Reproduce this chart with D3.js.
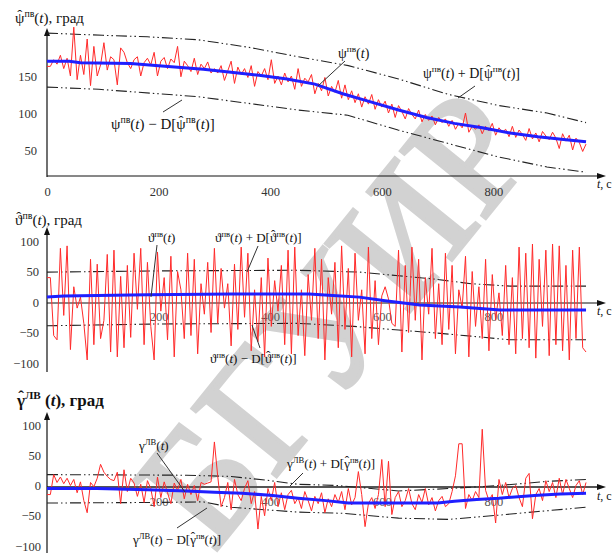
<!DOCTYPE html>
<html>
<head>
<meta charset="utf-8">
<script src="https://cdn.jsdelivr.net/npm/d3@7"></script>
<style>
  body { margin: 0; background: #fff; }
  svg { display: block; }
  text { font-family: "Liberation Serif", "Times New Roman", serif; }
</style>
</head>
<body>
<svg id="chart" width="613" height="553"></svg>
<script>
// сетка времени, c
const timeGrid = d3.range(0, 967, 6);
const tTicks = [0, 200, 400, 600, 800];

// курс (ψ)
const psiNoisy = [
  163,163,172,166,178,160,174,150,216,145,
  178,152,200,137,190,150,165,195,158,176,
  172,138,188,182,168,160,172,176,150,168,
  174,165,182,150,170,175,160,173,168,190,
  149,170,164,156,174,152,166,160,169,154,
  160,154,164,144,157,170,140,162,152,160,
  148,164,136,156,150,160,145,172,140,150,
  138,154,142,150,132,160,136,147,142,152,
  126,140,130,148,123,136,128,144,120,138,
  118,130,114,126,108,122,112,125,105,118,
  108,116,100,112,94,110,102,92,106,98,
  92,104,88,98,90,96,84,94,87,92,
  82,90,78,86,80,100,74,82,78,84,
  72,82,76,86,70,80,74,78,68,82,
  67,77,71,63,79,65,73,61,75,69,
  64,74,66,52,72,62,70,50,66,60,48,58
];
const psiMeanT = [0,40,60,150,200,280,330,380,430,480,530,580,630,680,730,780,830,880,930,966];
const psiMeanV = [170,170,168,167,164,159,155,151,146,139,126,115,104,94,86,80,73,68,64,61];
const psiUpT = [0,100,180,270,360,450,540,630,720,810,896,966];
const psiUpV = [208,205,203,199,189,176,164,146,125,110,100,87];
const psiLoT = [0,93,271,361,450,539,629,718,807,896,966];
const psiLoV = [135,132,122,113,104,97,77,59,41,27,20];
const psiTicks = [50, 100, 150];

// тангаж (ϑ)
const thetaNoisy = [
  40,40,-55,-62,88,-22,92,-78,25,-10,
  8,-35,-95,70,-70,62,-60,-30,78,-82,
  85,-90,42,-75,60,-58,80,-12,88,-70,
  65,-40,-95,82,-15,40,-62,75,-90,50,
  20,-60,80,-55,70,-85,30,-20,65,-50,
  88,-35,55,-10,30,-72,62,-45,90,-25,
  80,-80,20,-65,40,-90,72,-40,35,-15,
  60,-70,85,-85,90,-55,20,-88,45,-30,
  88,-60,70,-95,40,-20,65,-75,92,-45,
  55,-90,80,-30,20,-85,90,-60,35,-70,
  10,25,5,-35,-40,85,-82,60,-50,90,
  -30,70,-95,40,-20,88,-60,30,-70,80,
  -45,60,-85,20,-10,75,-90,50,-40,25,
  -60,70,-80,45,-30,15,-55,60,-70,40,
  -85,90,-60,80,-75,95,-92,70,-40,85,
  -88,95,-70,92,-80,60,-95,85,-60,90,-75,-82
];
const thetaMeanT = [0,30,180,330,470,505,560,606,668,740,812,966];
const thetaMeanV = [8,10,12,13,13,11,8,2,-5,-8,-13,-13];
const thetaUpT = [0,200,450,560,630,690,760,830,966];
const thetaUpV = [49,51,52,49,43,38,30,26,26];
const thetaLoT = [0,200,450,550,630,700,760,830,966];
const thetaLoV = [-39,-36,-35,-40,-46,-51,-56,-62,-62];
const thetaTicks = [-100, -50, 0, 50, 100];

// крен (γ)
const gammaNoisy = [
  -15,-15,18,5,14,3,12,0,10,-12,
  6,-25,-45,5,-2,12,35,22,15,10,
  8,22,-30,26,-10,12,4,-18,2,-28,
  8,-5,-35,14,-20,6,-12,-30,4,-8,
  10,-22,2,-15,0,-25,5,2,4,6,
  72,15,-35,-20,5,-40,10,-15,-25,-5,
  8,-30,-10,-72,-18,-50,-5,-25,5,-35,
  -12,-40,-15,-8,-30,-20,-38,-10,-25,-42,
  -18,-30,-12,-45,-22,-35,-15,-28,-10,-40,
  -5,-32,-20,23,-15,-68,-30,-20,-38,-15,
  43,-35,40,-48,-20,-10,-35,-25,-5,-30,
  -40,-15,-28,-5,-32,-20,-42,-25,-18,-35,
  -30,-10,16,69,69,-38,-15,-25,-10,-20,
  93,-8,-25,-15,-62,10,-15,5,-20,-5,
  0,-20,-35,12,20,-55,-15,-5,-25,8,
  -10,5,-20,12,-15,10,-5,-20,0,8,-15,5
];
const gammaMeanT = [0,90,180,250,300,350,400,450,500,540,700,730,770,810,850,880,920,966];
const gammaMeanV = [-5,-5,-7,-9,-11,-13,-16,-21,-25,-29,-29,-26,-23,-21,-18,-16,-14,-13];
const gammaUpT = [0,250,330,400,450,520,630,720,810,900,966];
const gammaUpV = [18,17,15,8,2,0,-9,-5,0,7,10];
const gammaLoT = [0,200,280,330,450,530,630,720,810,880,966];
const gammaLoV = [-29,-28,-27,-36,-44,-46,-54,-56,-49,-43,-36];
const gammaTicks = [-100, -50, 0, 50, 100];

const svg = d3.select('#chart');
const x = d3.scaleLinear().domain([0, 1000]).range([47, 605]);

const pairs = (ts, vs) => ts.map((t, i) => [t, vs[i]]);

// водяной знак
svg.append('text')
  .attr('transform', 'translate(332,316) rotate(-51)')
  .attr('text-anchor', 'middle')
  .attr('dy', '0.35em')
  .attr('font-family', '"Liberation Sans", sans-serif')
  .attr('font-size', 165)
  .attr('fill', '#d2d2d2')
  .attr('stroke', '#d2d2d2')
  .attr('stroke-width', 4)
  .text('БГУИР');

function measure(s, size, weight) {
  const t = svg.append('text').attr('font-size', size).attr('font-weight', weight || 'normal').text(s);
  const w = t.node().getComputedTextLength();
  t.remove();
  return w;
}

// текст с верхними индексами, курсивом и "крышкой"
function rich(g, px, py, parts, size, weight) {
  const txt = g.append('text')
    .attr('x', px).attr('y', py)
    .attr('font-size', size)
    .attr('font-weight', weight || 'normal')
    .attr('fill', '#111');
  let up = false, pendDx = 0, pendDy = 0;
  parts.forEach(([s, k]) => {
    const sp = txt.append('tspan').text(s);
    let dx = pendDx, dy = pendDy;
    pendDx = 0; pendDy = 0;
    if (k === 's') {
      sp.attr('font-size', size * 0.66);
      if (!up) dy -= size * 0.4;
      up = true;
    } else if (up) {
      dy += size * 0.4;
      up = false;
    }
    if (dx) sp.attr('dx', dx);
    if (dy) sp.attr('dy', dy);
    if (k === 'i') sp.attr('font-style', 'italic');
    if (k === 'h') {
      const w = measure(s, size, weight), hw = measure('ˆ', size, weight);
      txt.append('tspan').text('ˆ')
        .attr('dx', -(w + hw) / 2)
        .attr('dy', -size * 0.22);
      pendDx = (w - hw) / 2;
      pendDy = size * 0.22;
    }
  });
  return txt;
}

function arrowUp(g, px, py) {
  g.append('path').attr('d', `M${px},${py} l-3,8 l6,0 z`).attr('fill', '#111');
}
function arrowRight(g, px, py) {
  g.append('path').attr('d', `M${px},${py} l-9,-3 l0,6 z`).attr('fill', '#111');
}

function panel(cfg) {
  const g = svg.append('g');
  const y = d3.scaleLinear().domain(cfg.domain).range(cfg.range);
  const line = d3.line().x(d => x(d[0])).y(d => y(d[1]));

  // оси
  g.append('line')
    .attr('x1', x(0)).attr('x2', 600)
    .attr('y1', cfg.axisY).attr('y2', cfg.axisY)
    .attr('stroke', cfg.xAxisColor || '#111')
    .attr('stroke-width', cfg.xAxisWidth || 1);
  arrowRight(g, 606, cfg.axisY);
  g.append('line')
    .attr('x1', x(0)).attr('x2', x(0))
    .attr('y1', cfg.yBottom).attr('y2', cfg.yTop + 4)
    .attr('stroke', '#111').attr('stroke-width', 1.2);
  arrowUp(g, x(0), cfg.yTop);

  // подписи делений
  const yAxis = g.append('g')
    .attr('transform', `translate(${cfg.yLabelX},0)`)
    .call(d3.axisLeft(y).tickValues(cfg.yTicks).tickSize(0).tickPadding(0));
  yAxis.select('.domain').remove();
  yAxis.selectAll('text')
    .attr('font-family', '"Liberation Serif", serif')
    .attr('font-size', 12.5).attr('fill', '#333');

  const xAxis = g.append('g')
    .attr('transform', `translate(0,${cfg.xLabelY})`)
    .call(d3.axisBottom(x).tickValues(cfg.xTicks).tickSize(0).tickPadding(0));
  xAxis.select('.domain').remove();
  xAxis.selectAll('text')
    .attr('font-family', '"Liberation Serif", serif')
    .attr('font-size', 12.5).attr('fill', cfg.xLabelColor || '#333');

  // огибающие ± D
  [pairs(cfg.upT, cfg.upV), pairs(cfg.loT, cfg.loV)].forEach(d => {
    g.append('path').datum(d)
      .attr('d', line)
      .attr('fill', 'none')
      .attr('stroke', '#222')
      .attr('stroke-width', 1.1)
      .attr('stroke-dasharray', '11,3,1.5,3,1.5,3');
  });

  // измерения
  g.append('path').datum(timeGrid.map((t, i) => [t, cfg.noisy[i]]))
    .attr('d', line)
    .attr('fill', 'none')
    .attr('stroke', '#ff2a2a')
    .attr('stroke-width', 1);

  // оценка
  g.append('path').datum(pairs(cfg.meanT, cfg.meanV))
    .attr('d', line)
    .attr('fill', 'none')
    .attr('stroke', '#1f1fff')
    .attr('stroke-width', 3);

  // t, c
  rich(g, 597, cfg.tLabelY, [['t', 'i'], [', c']], 12);

  // заголовок
  rich(g, cfg.titleX, cfg.titleY, cfg.title, cfg.titleSize, cfg.titleWeight);

  // выноски
  cfg.notes.forEach(n => {
    g.append('line')
      .attr('x1', n.from[0]).attr('y1', n.from[1])
      .attr('x2', n.to[0]).attr('y2', n.to[1])
      .attr('stroke', '#333').attr('stroke-width', 1);
    rich(g, n.at[0], n.at[1], n.parts, n.size);
  });
}

const sym = (ch, sup) => [[ch], [sup, 's'], ['('], ['t', 'i'], [')']];
const plusD = (ch, sup, hatSup, sign) =>
  [[ch], [sup, 's'], ['('], ['t', 'i'], [`) ${sign} D[`], [ch, 'h'], [hatSup, 's'], ['('], ['t', 'i'], [')]']];

panel({
  domain: [0, 200], range: [187, 39],
  axisY: 176, yTop: 28, yBottom: 177,
  yTicks: psiTicks, yLabelX: 37,
  xTicks: tTicks, xLabelY: 187,
  tLabelY: 188,
  noisy: psiNoisy, meanT: psiMeanT, meanV: psiMeanV,
  upT: psiUpT, upV: psiUpV, loT: psiLoT, loV: psiLoV,
  title: [['ψ', 'h'], ['пв', 's'], ['('], ['t', 'i'], ['), град']],
  titleX: 15, titleY: 23, titleSize: 15,
  notes: [
    { parts: sym('ψ', 'пв'), at: [338, 58], size: 14, from: [345, 61], to: [318, 86] },
    { parts: plusD('ψ', 'пв', 'пв', '+'), at: [423, 78], size: 14, from: [475, 86], to: [458, 98] },
    { parts: plusD('ψ', 'пв', 'пв', '−'), at: [111, 129], size: 15, from: [163, 112], to: [182, 100] }
  ]
});

panel({
  domain: [-100, 100], range: [363, 241],
  axisY: 303, yTop: 227, yBottom: 372,
  yTicks: thetaTicks, yLabelX: 39,
  xTicks: tTicks.slice(1), xLabelY: 312, xLabelColor: '#555',
  tLabelY: 315,
  noisy: thetaNoisy, meanT: thetaMeanT, meanV: thetaMeanV,
  upT: thetaUpT, upV: thetaUpV, loT: thetaLoT, loV: thetaLoV,
  title: [['ϑ', 'h'], ['пв', 's'], ['('], ['t', 'i'], ['), град']],
  titleX: 15, titleY: 225, titleSize: 15,
  notes: [
    { parts: sym('ϑ', 'пв'), at: [148, 242], size: 13, from: [157, 245], to: [151, 297] },
    { parts: plusD('ϑ', 'пв', 'пв', '+'), at: [215, 242], size: 13, from: [258, 246], to: [247, 272] },
    { parts: plusD('ϑ', 'пв', 'пв', '−'), at: [210, 363], size: 13, from: [260, 348], to: [252, 325] }
  ]
});

panel({
  domain: [-100, 100], range: [546, 425],
  axisY: 487, yTop: 412, yBottom: 553,
  yTicks: gammaTicks, yLabelX: 41,
  xTicks: tTicks.slice(1), xLabelY: 497, xLabelColor: '#555',
  xAxisColor: '#555', xAxisWidth: 2,
  tLabelY: 500,
  noisy: gammaNoisy, meanT: gammaMeanT, meanV: gammaMeanV,
  upT: gammaUpT, upV: gammaUpV, loT: gammaLoT, loV: gammaLoV,
  title: [['γ', 'h'], ['ЛВ', 's'], [' ('], ['t', 'i'], ['), град']],
  titleX: 17, titleY: 406, titleSize: 17, titleWeight: 'bold',
  notes: [
    { parts: sym('γ', 'ЛВ'), at: [139, 450], size: 13, from: [157, 453], to: [185, 492] },
    { parts: plusD('γ', 'ЛВ', 'пв', '+'), at: [287, 468], size: 13, from: [303, 473], to: [290, 486] },
    { parts: plusD('γ', 'ЛВ', 'пв', '−'), at: [133, 544], size: 13, from: [177, 528], to: [207, 508] }
  ]
});
</script>
</body>
</html>
